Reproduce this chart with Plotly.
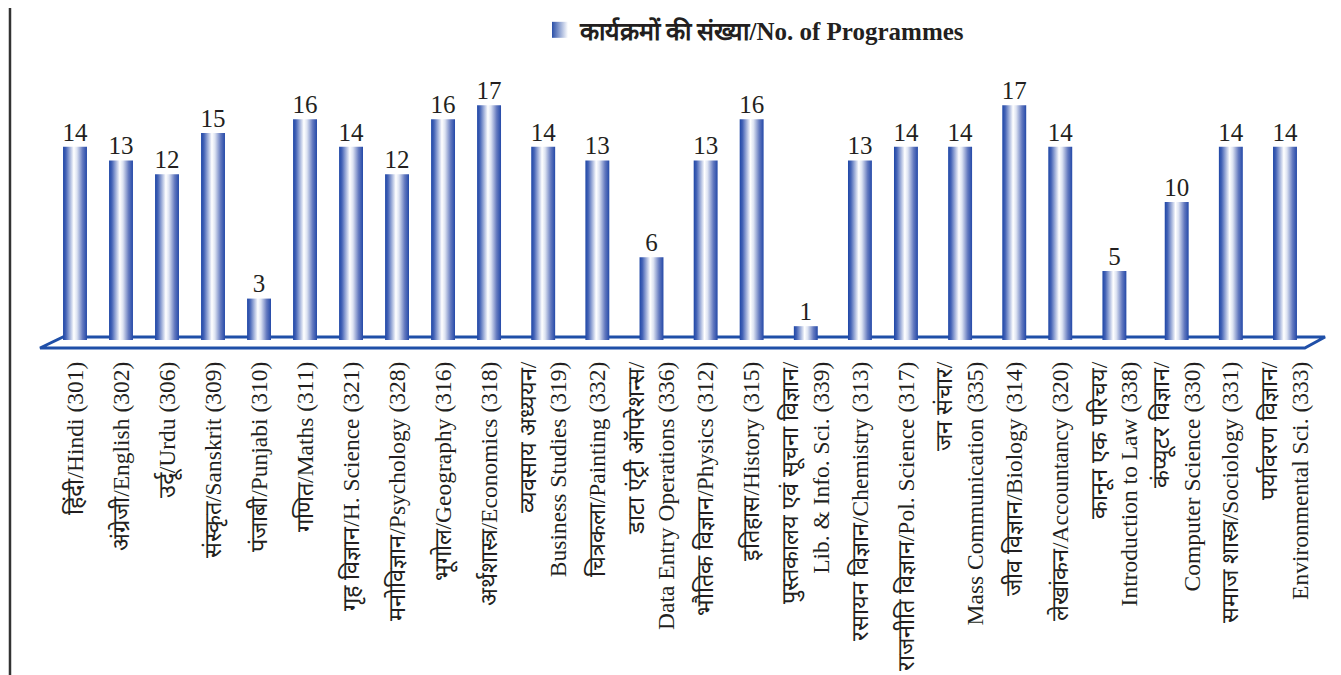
import plotly.graph_objects as go

categories = [
    "हिंदी/Hindi (301)", "अंग्रेजी/English (302)", "उर्दू/Urdu (306)", "संस्कृत/Sanskrit (309)",
    "पंजाबी/Punjabi (310)", "गणित/Maths (311)", "गृह विज्ञान/H. Science (321)",
    "मनोविज्ञान/Psychology (328)", "भूगोल/Geography (316)", "अर्थशास्त्र/Economics (318)",
    "व्यवसाय अध्ययन/<br>Business Studies (319)", "चित्रकला/Painting (332)",
    "डाटा एंट्री ऑपरेशन्स/<br>Data Entry Operations (336)", "भौतिक विज्ञान/Physics (312)",
    "इतिहास/History (315)", "पुस्तकालय एवं सूचना विज्ञान/<br>Lib. & Info. Sci. (339)",
    "रसायन विज्ञान/Chemistry (313)", "राजनीति विज्ञान/Pol. Science (317)",
    "जन संचार/<br>Mass Communication (335)", "जीव विज्ञान/Biology (314)",
    "लेखांकन/Accountancy (320)", "कानून एक परिचय/<br>Introduction to Law (338)",
    "कंप्यूटर विज्ञान/<br>Computer Science (330)", "समाज शास्त्र/Sociology (331)",
    "पर्यावरण विज्ञान/<br>Environmental Sci. (333)",
]
values = [14, 13, 12, 15, 3, 16, 14, 12, 16, 17, 14, 13, 6, 13, 16, 1, 13, 14, 14, 17, 14, 5, 10, 14, 14]
legend_name = "<b>कार्यक्रमों की संख्या/No. of Programmes</b>"

SERIF = "'Times New Roman', 'Liberation Serif', serif"
BLUE = "#1f4fa8"
gradient = [[0, "#1e46a6"], [0.12, "#4463b6"], [0.45, "#ffffff"], [0.58, "#dde3f2"],
            [0.82, "#6379bf"], [1, "#2449a8"]]

# slot positions: two-line labels get a little extra room beside them
n = len(values)
lines = [c.count("<br>") + 1 for c in categories]
xs = [0.0]
for i in range(1, n):
    xs.append(xs[-1] + 1 + 0.177 * ((lines[i - 1] - 1) + (lines[i] - 1)))
half = 0.26

fig = go.Figure()
for i, v in enumerate(values):
    x0, x1 = xs[i] - half, xs[i] + half
    fig.add_trace(go.Scatter(
        x=[x0, x1, x1, x0, x0], y=[0, 0, v, v, 0],
        mode="lines", fill="toself", line=dict(width=0),
        fillgradient=dict(type="horizontal", colorscale=gradient, start=x0, stop=x1),
        showlegend=False, hoverinfo="skip",
    ))

fig.add_trace(go.Scatter(
    x=xs, y=values, mode="text", text=[str(v) for v in values],
    textposition="top center", textfont=dict(family=SERIF, size=25, color="#231f20"),
    showlegend=False, hoverinfo="skip",
))

# legend entry
fig.add_trace(go.Scatter(
    x=[None], y=[None], mode="markers", name=legend_name,
    marker=dict(symbol="square", size=22, color="#2a4fa8",
                gradient=dict(type="horizontal", color="white")),
))

xmin, xmax = xs[0], xs[-1]
fig.add_shape(type="path", xref="x", yref="y",
              path=(f"M {xmin-0.76},-0.58 L {xmax+0.43},-0.58 L {xmax+0.87},0.22 "
                    f"L {xmin-0.26},0.22 Z"),
              line=dict(color=BLUE, width=3), fillcolor="rgba(0,0,0,0)", layer="below")
fig.add_shape(type="line", xref="paper", yref="paper", x0=-0.0146, x1=-0.0146,
              y0=-1.2, y1=1.2, line=dict(color="#333333", width=2.5))

fig.update_layout(
    width=1341, height=675,
    margin=dict(l=21, r=18, t=2, b=327, autoexpand=False),
    paper_bgcolor="white", plot_bgcolor="white",
    xaxis=dict(range=[xmin - 1, xmax + 1], tickmode="array", tickvals=xs,
               ticktext=categories, tickangle=-90, showgrid=False, zeroline=False,
               showline=False, ticks="", automargin=False,
               tickfont=dict(family=SERIF, size=23.5, color="#231f20")),
    yaxis=dict(range=[-1.16, 23.91], visible=False, automargin=False),
    legend=dict(orientation="h", x=0.5576, xanchor="center", y=0.942, yanchor="middle",
                font=dict(family=SERIF, size=25, color="#231f20"), itemsizing="trace"),
    showlegend=True,
)

fig.write_html("out.html")
